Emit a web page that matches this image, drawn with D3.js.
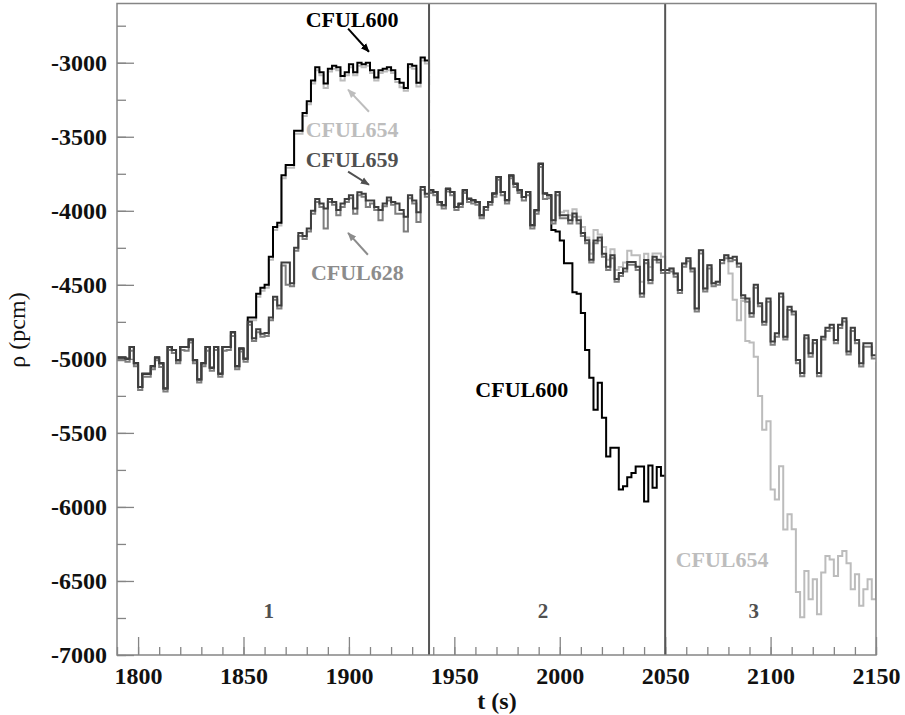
<!DOCTYPE html>
<html>
<head>
<meta charset="utf-8">
<script src="https://d3js.org/d3.v7.min.js"></script>
<style>
 body { margin: 0; background: #fff; }
</style>
</head>
<body>
<svg width="905" height="715"></svg>
<script>
 // histogram binning (2 s bins from 1790 s)
 var binStart = 1790, binWidth = 2;

 // reactivity (pcm) per bin
 var cful659 = [
   // zone 1 (1790-1938)
   -4990,-4990,-5000,-4920,-5030,-5190,-5100,-5100,-5050,-4990,-5030,-5200,-4920,-4940,-5010,-4920,
   -4920,-4870,-5010,-5140,-5030,-4920,-5060,-4920,-5100,-4920,-4920,-4820,-5050,-4930,-5000,
   -4750,-4860,-4800,-4830,-4825,-4720,-4580,-4640,-4350,-4350,-4490,-4250,-4150,-4170,-4120,-4000,
   -3920,-3950,-3985,-3920,-3940,-3995,-3950,-3920,-3895,-3985,-3875,-3885,-3930,-3930,-3975,-3995,
   -3950,-3910,-3940,-3950,-3995,-4040,-3895,-3930,-4010,-3840,-3885,
   // zone 2 (1938-2050)
   -3862,-3873,-3940,-3963,-3851,-3873,-3974,-3952,-3862,-3918,-3929,-3940,-4030,-3974,-3940,-3884,
   -3772,-3873,-3929,-3761,-3817,-3862,-3907,-3873,-4098,-3997,-3683,-3884,-3895,-4064,-3873,-4030,
   -4030,-4064,-4019,-4064,-4150,-4199,-4330,-4200,-4180,-4290,-4378,-4300,-4460,-4420,-4390,-4345,
   -4345,-4378,-4558,-4333,-4468,-4310,-4330,-4400,
   // zone 3 (2050-2150)
   -4400,-4390,-4423,-4535,-4356,-4320,-4390,-4660,-4266,-4524,-4367,-4490,-4480,-4333,-4300,-4320,
   -4311,-4356,-4570,-4592,-4692,-4500,-4625,-4750,-4592,-4883,-4827,-4558,-4850,-4648,-4680,-5007,
   -5096,-4840,-4962,-4872,-5096,-4850,-4790,-4770,-4872,-4770,-4726,-4950,-4790,-4872,-5030,-4895,
   -4895,-4975
 ];

 var cful628 = [
   -5010,-5010,-5020,-4945,-5050,-5210,-5120,-5120,-5070,-5010,-5055,-5220,-4940,-4960,-5030,-4940,
   -4945,-4890,-5030,-5160,-5050,-4945,-5080,-4940,-5120,-4945,-4940,-4845,-5070,-4950,-5020,
   -4770,-4880,-4820,-4850,-4845,-4740,-4600,-4660,-4370,-4500,-4510,-4270,-4170,-4190,-4140,-4020,
   -3940,-3975,-4120,-3940,-3960,-4030,-3975,-3940,-3915,-4020,-3895,-3905,-3975,-3950,-3995,-4064,
   -3970,-3930,-3960,-4020,-4020,-4140,-3915,-3950,-4075,-3860,-3905,
   -3880,-3895,-3960,-3985,-3870,-3895,-3995,-3975,-3880,-3940,-3950,-3960,-4050,-3995,-3960,-3905,
   -3790,-3895,-3950,-3780,-3840,-3880,-3930,-3895,-4120,-4020,-3705,-3920,-3915,-4085,-3895,-4050,
   -4050,-4085,-4040,-4085,-4170,-4220,-4350,-4220,-4200,-4310,-4400,-4320,-4480,-4440,-4410,-4365,
   -4365,-4400,-4580,-4355,-4490,-4330,-4350,-4420,
   -4420,-4410,-4445,-4555,-4378,-4340,-4410,-4680,-4288,-4545,-4390,-4510,-4500,-4355,-4320,-4340,
   -4333,-4378,-4590,-4615,-4715,-4520,-4645,-4770,-4615,-4905,-4850,-4580,-4870,-4670,-4700,-5030,
   -5118,-4860,-4985,-4895,-5118,-4870,-4812,-4792,-4895,-4792,-4748,-4970,-4812,-4895,-5052,-4918,
   -4918,-4998
 ];

 var cful600 = [
   -4990,-4990,-5000,-4920,-5030,-5190,-5100,-5100,-5050,-4990,-5030,-5200,-4920,-4940,-5010,-4920,
   -4920,-4870,-5010,-5140,-5030,-4920,-5060,-4920,-5100,-4920,-4920,-4820,-5050,-4930,-5000,
   -4720,-4720,-4560,-4520,-4500,-4310,-4110,-4080,-3760,-3690,-3690,-3460,-3460,-3340,-3260,-3120,
   -3030,-3065,-3140,-3040,-3020,-3030,-3090,-3065,-3010,-3065,-3000,-3010,-3000,-3050,-3100,-3050,
   -3040,-3030,-3050,-3110,-3135,-3170,-3010,-3020,-3135,-2965,-2985,
   -3862,-3873,-3940,-3963,-3851,-3873,-3974,-3952,-3862,-3918,-3929,-3940,-4030,-3974,-3940,-3884,
   -3772,-3873,-3929,-3761,-3817,-3862,-3907,-3873,-4098,-3997,-3683,-3884,-3895,
   -4130,-4140,-4200,-4355,-4355,-4550,-4560,-4690,-4940,-5128,-5343,-5162,-5397,-5660,-5600,-5600,
   -5882,-5860,-5800,-5770,-5727,-5727,-5963,-5720,-5870,-5730,-5790
 ];

 var cful654 = [
   -4990,-4990,-5000,-4920,-5030,-5190,-5100,-5100,-5050,-4990,-5030,-5200,-4920,-4940,-5010,-4920,
   -4920,-4870,-5010,-5140,-5030,-4920,-5060,-4920,-5100,-4920,-4920,-4820,-5050,-4930,-5000,
   -4740,-4740,-4580,-4540,-4520,-4330,-4130,-4100,-3780,-3710,-3710,-3480,-3480,-3360,-3280,-3140,
   -3050,-3085,-3170,-3060,-3040,-3050,-3120,-3085,-3030,-3085,-3020,-3030,-3020,-3070,-3120,-3070,
   -3060,-3050,-3070,-3130,-3165,-3190,-3030,-3040,-3160,-2985,-3005,
   -3862,-3873,-3940,-3963,-3851,-3873,-3974,-3952,-3862,-3918,-3929,-3940,-4030,-3974,-3940,-3884,
   -3772,-3873,-3929,-3761,-3817,-3862,-3907,-3873,-4098,-3997,-3683,-3884,-3895,-4064,-3873,-4010,
   -4000,-4030,-3990,-4040,-4110,-4180,-4290,-4130,-4160,-4244,-4330,-4260,-4400,-4380,-4350,-4270,
   -4300,-4300,-4480,-4290,-4380,-4288,-4288,-4310,
   -4400,-4390,-4423,-4535,-4356,-4320,-4390,-4660,-4266,-4524,-4367,-4490,-4480,-4333,-4300,
   -4423,-4600,-4740,-4610,-4880,-4890,-4985,-5250,-5478,-5422,-5882,-5950,-5725,-6152,-6050,-6150,
   -6575,-6745,-6432,-6623,-6488,-6724,-6443,-6331,-6355,-6466,-6331,-6298,-6380,-6556,-6455,-6668,
   -6556,-6488,-6623
 ];
 var overflow654 = -5020;

 var zoneBounds = [1938, 2050];
 var zoneNames = ["1", "2", "3"];
 var zoneLabelT = [1862, 1992, 2092];

 var xMajor = d3.range(1800, 2151, 50);
 var xMinor = d3.range(1790, 2151, 10);
 var yMajor = d3.range(-7000, -2999, 500);
 var yMinor = d3.range(-7000, -2600, 250);

 var svg = d3.select("svg");
 var serif = "'Liberation Serif', 'Times New Roman', serif";

 var x = d3.scaleLinear().domain([1790, 2150]).range([117, 876]);
 var y = d3.scaleLinear().domain([-7000, -2600]).range([655, 3.5]);

 svg.append("defs").append("clipPath").attr("id", "plot")
    .append("rect").attr("x", 117).attr("y", 3.5).attr("width", 759).attr("height", 651.5);

 // axes
 function styleAxis(g) {
     g.select(".domain").remove();
     g.selectAll("line").attr("stroke", "#858585").attr("stroke-width", 1.3);
     g.selectAll("text").attr("font-family", serif).attr("font-size", 24)
      .attr("font-weight", "bold").attr("fill", "#111");
 }
 svg.append("g").attr("transform", "translate(0,655)")
    .call(d3.axisBottom(x).tickValues(xMinor).tickSize(-8).tickFormat(""))
    .call(styleAxis);
 svg.append("g").attr("transform", "translate(0,655)")
    .call(d3.axisBottom(x).tickValues(xMajor).tickSize(-18).tickPadding(12)
          .tickFormat(function (d) { return String(d); }))
    .call(styleAxis);
 svg.append("g").attr("transform", "translate(117,0)")
    .call(d3.axisLeft(y).tickValues(yMinor).tickSize(-9).tickFormat(""))
    .call(styleAxis);
 svg.append("g").attr("transform", "translate(117,0)")
    .call(d3.axisLeft(y).tickValues(yMajor).tickSize(-17).tickPadding(10)
          .tickFormat(function (d) { return String(d); }))
    .call(styleAxis);

 // histograms
 var stepLine = d3.line()
                  .x(function (d) { return x(d[0]); })
                  .y(function (d) { return y(d[1]); })
                  .curve(d3.curveStepAfter);

 function histPoints(values, extra) {
     var pts = values.map(function (v, i) { return [binStart + i * binWidth, v]; });
     pts.push([binStart + values.length * binWidth, values[values.length - 1]]);
     if (extra !== undefined) pts.push([binStart + values.length * binWidth, extra]);
     return pts;
 }

 var series = [
     { values: cful654, color: "#bcbcbc", extra: overflow654 },
     { values: cful600, color: "#000000" },
     { values: cful628, color: "#7e7e7e" },
     { values: cful659, color: "#3e3e3e" }
 ];

 var plot = svg.append("g").attr("clip-path", "url(#plot)");
 series.forEach(function (s) {
     plot.append("path")
         .attr("d", stepLine(histPoints(s.values, s.extra)))
         .attr("fill", "none")
         .attr("stroke", s.color)
         .attr("stroke-width", 2);
 });

 // zone separators
 svg.selectAll("line.zone")
    .data(zoneBounds)
    .enter()
    .append("line")
    .attr("class", "zone")
    .attr("x1", function (d) { return x(d); })
    .attr("x2", function (d) { return x(d); })
    .attr("y1", y(-2600))
    .attr("y2", y(-7000))
    .attr("stroke", "#555")
    .attr("stroke-width", 2);

 // frame
 svg.append("rect")
    .attr("x", 117).attr("y", 3.5).attr("width", 759).attr("height", 651.5)
    .attr("fill", "none").attr("stroke", "#858585").attr("stroke-width", 1.5);

 svg.selectAll("text.zone")
    .data(zoneNames)
    .enter()
    .append("text")
    .attr("class", "zone")
    .attr("x", function (d, i) { return x(zoneLabelT[i]); })
    .attr("y", y(-6750))
    .attr("text-anchor", "middle")
    .attr("font-family", serif).attr("font-size", 21).attr("font-weight", "bold")
    .attr("fill", "#505050")
    .text(function (d) { return d; });

 // annotations
 var notes = [
     { text: "CFUL600", t: 1901.5, v: -2757, color: "#000000" },
     { text: "CFUL654", t: 1901.5, v: -3500, color: "#bdbdbd" },
     { text: "CFUL659", t: 1901.5, v: -3703, color: "#505050" },
     { text: "CFUL628", t: 1904, v: -4466, color: "#8c8c8c" },
     { text: "CFUL600", t: 1982, v: -5257, color: "#000000" },
     { text: "CFUL654", t: 2077, v: -6405, color: "#bdbdbd" }
 ];
 var arrows = [
     { t1: 1899.6, v1: -2770, t2: 1909.5, v2: -2926, color: "#000000" },
     { t1: 1909.5, v1: -3331, t2: 1899.6, v2: -3182, color: "#bdbdbd" },
     { t1: 1899.6, v1: -3736, t2: 1909.5, v2: -3824, color: "#505050" },
     { t1: 1909, v1: -4297, t2: 1899.6, v2: -4149, color: "#8c8c8c" }
 ];

 var defs = svg.select("defs");
 arrows.forEach(function (a, i) {
     defs.append("marker")
         .attr("id", "head" + i)
         .attr("viewBox", "0 0 10 10")
         .attr("refX", 9).attr("refY", 5)
         .attr("markerWidth", 9).attr("markerHeight", 9)
         .attr("markerUnits", "userSpaceOnUse")
         .attr("orient", "auto")
         .append("path").attr("d", "M0,1 L10,5 L0,9 z").attr("fill", a.color);
 });
 svg.selectAll("line.arrow")
    .data(arrows)
    .enter()
    .append("line")
    .attr("class", "arrow")
    .attr("x1", function (d) { return x(d.t1); })
    .attr("y1", function (d) { return y(d.v1); })
    .attr("x2", function (d) { return x(d.t2); })
    .attr("y2", function (d) { return y(d.v2); })
    .attr("stroke", function (d) { return d.color; })
    .attr("stroke-width", 2)
    .attr("marker-end", function (d, i) { return "url(#head" + i + ")"; });

 svg.selectAll("text.note")
    .data(notes)
    .enter()
    .append("text")
    .attr("class", "note")
    .attr("x", function (d) { return x(d.t); })
    .attr("y", function (d) { return y(d.v); })
    .attr("text-anchor", "middle")
    .attr("font-family", serif).attr("font-size", 22).attr("font-weight", "bold")
    .attr("fill", function (d) { return d.color; })
    .text(function (d) { return d.text; });

 // axis titles
 svg.append("text")
    .attr("x", 497).attr("y", 709)
    .attr("text-anchor", "middle")
    .attr("font-family", serif).attr("font-size", 24).attr("font-weight", "bold")
    .attr("fill", "#111")
    .text("t (s)");
 svg.append("text")
    .attr("transform", "translate(25,330) rotate(-90)")
    .attr("text-anchor", "middle")
    .attr("font-family", serif).attr("font-size", 24)
    .attr("fill", "#111")
    .text("ρ (pcm)");
</script>
</body>
</html>
